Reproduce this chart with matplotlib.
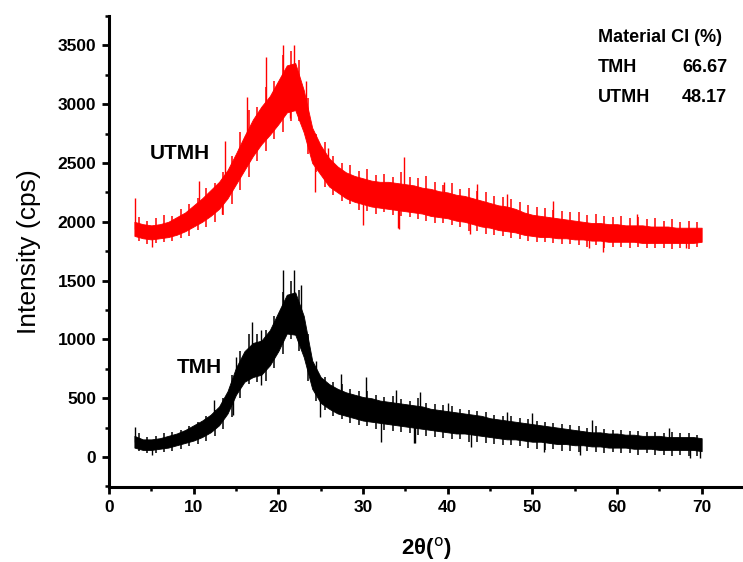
import numpy as np
import matplotlib
matplotlib.use("Agg")
import matplotlib.pyplot as plt
from matplotlib.ticker import MultipleLocator

plt.rcParams['font.family'] = ['Liberation Sans', 'DejaVu Sans']

# 2-theta grid (deg): dense band of each pattern at whole degrees,
# noise extremes in between (half degrees), all read off the picture
two_theta = np.arange(3, 71)
half_theta = np.arange(3.5, 70, 1.0)

utmh_lo = [1880, 1860, 1850, 1860, 1870, 1890, 1920, 1960, 2000, 2050,
           2110, 2200, 2320, 2440, 2560, 2660, 2740, 2830, 2930, 2950,
           2760, 2500, 2400, 2300, 2250, 2200, 2170, 2150, 2130, 2120,
           2110, 2100, 2090, 2080, 2070, 2050, 2040, 2030, 2010, 2000,
           1980, 1960, 1950, 1930, 1920, 1910, 1890, 1880, 1870, 1870,
           1860, 1860, 1850, 1850, 1840, 1840, 1830, 1830, 1830, 1830,
           1820, 1820, 1820, 1820, 1820, 1820, 1820, 1830]
utmh_hi = [2000, 1980, 1970, 1980, 2000, 2040, 2080, 2140, 2200, 2270,
           2340, 2440, 2580, 2730, 2870, 2980, 3070, 3200, 3330, 3350,
           3120, 2800, 2650, 2540, 2470, 2420, 2390, 2370, 2350, 2340,
           2340, 2330, 2320, 2310, 2290, 2280, 2260, 2250, 2230, 2220,
           2200, 2180, 2160, 2140, 2130, 2110, 2080, 2060, 2050, 2040,
           2030, 2020, 2010, 2000, 1990, 1990, 1980, 1980, 1970, 1970,
           1970, 1960, 1960, 1960, 1950, 1950, 1950, 1950]
utmh_top = [2040, 2010, 2030, 2060, 2050, 2110, 2150, 2200, 2290, 2330,
            2420, 2560, 2760, 2950, 2980, 3150, 3200, 3420, 3450, 3380,
            3050, 2750, 2680, 2560, 2500, 2480, 2430, 2450, 2400, 2410,
            2380, 2420, 2380, 2370, 2390, 2340, 2310, 2330, 2280, 2290,
            2260, 2250, 2220, 2210, 2190, 2170, 2140, 2130, 2120, 2100,
            2090, 2080, 2080, 2060, 2070, 2050, 2040, 2050, 2030, 2040,
            2020, 2030, 2010, 2020, 2000, 2010, 2000]
utmh_bot = [1840, 1810, 1820, 1830, 1840, 1860, 1880, 1930, 1960, 2000,
            2060, 2150, 2270, 2380, 2520, 2600, 2700, 2760, 2860, 2860,
            2580, 2420, 2300, 2230, 2180, 2150, 2100, 2090, 2070, 2080,
            2060, 2050, 2040, 2020, 2010, 1990, 1990, 1970, 1960, 1920,
            1920, 1900, 1890, 1880, 1860, 1850, 1840, 1830, 1830, 1820,
            1810, 1810, 1800, 1790, 1800, 1780, 1790, 1790, 1780, 1790,
            1780, 1780, 1780, 1770, 1780, 1770, 1790]

tmh_lo = [80, 60, 60, 70, 80, 100, 120, 140, 170, 210,
          270, 370, 530, 640, 680, 700, 780, 900, 1050, 1040,
          850, 580, 460, 410, 370, 350, 330, 310, 300, 290,
          280, 270, 260, 250, 240, 230, 220, 210, 200, 200,
          190, 180, 170, 160, 150, 150, 140, 130, 130, 120,
          110, 110, 100, 100, 90, 90, 80, 80, 80, 70,
          70, 70, 60, 60, 60, 60, 60, 50]
tmh_hi = [180, 150, 150, 160, 180, 200, 230, 270, 310, 360,
          430, 560, 760, 900, 970, 990, 1080, 1230, 1380, 1400,
          1200, 820, 680, 620, 580, 550, 530, 510, 500, 480,
          470, 460, 450, 440, 430, 410, 400, 390, 380, 370,
          360, 350, 330, 320, 310, 300, 290, 280, 270, 260,
          250, 240, 230, 220, 210, 210, 200, 200, 190, 190,
          180, 180, 180, 170, 170, 170, 170, 160]
tmh_top = [200, 170, 180, 200, 210, 230, 260, 300, 350, 400,
           500, 700, 900, 1050, 1050, 1080, 1200, 1400, 1500, 1420,
           1050, 760, 680, 640, 620, 580, 560, 560, 530, 510,
           520, 490, 480, 500, 460, 450, 440, 430, 410, 400,
           390, 380, 360, 350, 350, 330, 320, 310, 300, 290,
           280, 270, 260, 250, 260, 240, 230, 230, 220, 220,
           210, 210, 200, 210, 200, 200, 190]
tmh_bot = [50, 30, 30, 40, 50, 70, 90, 110, 140, 180,
           240, 340, 500, 620, 640, 650, 760, 880, 1000, 900,
           650, 480, 400, 350, 320, 290, 270, 260, 240, 230,
           220, 210, 200, 190, 180, 170, 160, 150, 150, 130,
           130, 120, 110, 100, 100, 90, 80, 70, 60, 70,
           50, 50, 40, 50, 40, 30, 40, 30, 30, 20,
           30, 20, 20, 10, 20, 10, 10]

# isolated noise spikes (position, tip intensity)
utmh_spike_x = [3.1, 5.1, 10.6, 12.5, 13.3, 13.7, 15.3, 16.3, 18.6, 20.6,
                21.4, 21.8, 23.3, 24.3, 25.9, 30.0, 34.1, 34.3, 34.9, 39.6,
                42.6, 43.5, 47.0, 52.4, 56.7, 58.4, 62.4, 68.2]
utmh_spike_y = [2200, 1785, 2350, 2290, 2070, 2690, 2630, 3060, 3400, 3500,
                2880, 3500, 3200, 2250, 2630, 1970, 1950, 1940, 2550, 2335,
                1900, 2325, 2240, 2180, 1775, 1740, 2070, 1775]

tmh_spike_x = [3.1, 5.1, 12.4, 14.7, 15.0, 16.9, 18.0, 18.0, 20.6, 21.6,
               21.8, 22.7, 24.5, 24.9, 27.4, 30.3, 32.1, 33.9, 36.0, 36.1,
               36.7, 40.0, 42.7, 47.0, 50.0, 51.4, 55.6, 57.0, 66.2, 68.6,
               69.8]
tmh_spike_y = [257, 20, 485, 360, 850, 1150, 1080, 610, 1590, 1080,
               1590, 1460, 820, 340, 710, 680, 125, 570, 115, 115,
               550, 460, 85, 385, 370, 42, 17, 315, 245, -8,
               -8]

ci_materials = ['TMH', 'UTMH']
ci_values = ['66.67', '48.17']


def draw_pattern(ax, lo, hi, top, bot, sx, sy, color):
    ax.fill_between(two_theta, lo, hi, color=color, lw=0.6)
    ax.vlines(half_theta, bot, top, color=color, lw=1.1)
    mid = np.interp(sx, two_theta, (np.array(lo) + np.array(hi)) / 2)
    ax.vlines(sx, mid, sy, color=color, lw=1.0)


fig = plt.figure(figsize=(7.43, 5.62), dpi=100)
ax = fig.add_axes([109 / 743, 75 / 562, 635 / 743, 471 / 562])

draw_pattern(ax, utmh_lo, utmh_hi, utmh_top, utmh_bot,
             utmh_spike_x, utmh_spike_y, '#ff0000')
draw_pattern(ax, tmh_lo, tmh_hi, tmh_top, tmh_bot,
             tmh_spike_x, tmh_spike_y, 'black')

ax.set_xlim(0, 75)
ax.set_ylim(-255, 3750)
ax.xaxis.set_minor_locator(MultipleLocator(5))
ax.yaxis.set_minor_locator(MultipleLocator(250))
ax.set_xticks(range(0, 71, 10))
ax.set_yticks(range(0, 3501, 500))

for side in ['top', 'right']:
    ax.spines[side].set_visible(False)
for side in ['left', 'bottom']:
    ax.spines[side].set_linewidth(2.2)

ax.tick_params(which='major', direction='out', length=5, width=2.0,
               labelsize=12.5, pad=4)
ax.tick_params(which='minor', direction='out', length=3, width=1.8)
for lab in ax.get_xticklabels() + ax.get_yticklabels():
    lab.set_fontweight('bold')

ax.set_xlabel(r'2θ($^{\rm o}$)', fontsize=16, fontweight='bold', labelpad=15)
ax.set_ylabel('Intensity (cps)', fontsize=19, labelpad=12)

ax.text(4.8, 2585, 'UTMH', fontsize=15, fontweight='bold', va='center')
ax.text(8.0, 757, 'TMH', fontsize=15, fontweight='bold', va='center')

ax.text(57.7, 3564, 'Material CI (%)', fontsize=13, fontweight='bold', va='center')
for i, (m, v) in enumerate(zip(ci_materials, ci_values)):
    y = 3309 - i * 256
    ax.text(57.7, y, m, fontsize=13, fontweight='bold', va='center')
    ax.text(73.0, y, v, fontsize=13, fontweight='bold', va='center', ha='right')

fig.savefig('out.png', dpi=100)
